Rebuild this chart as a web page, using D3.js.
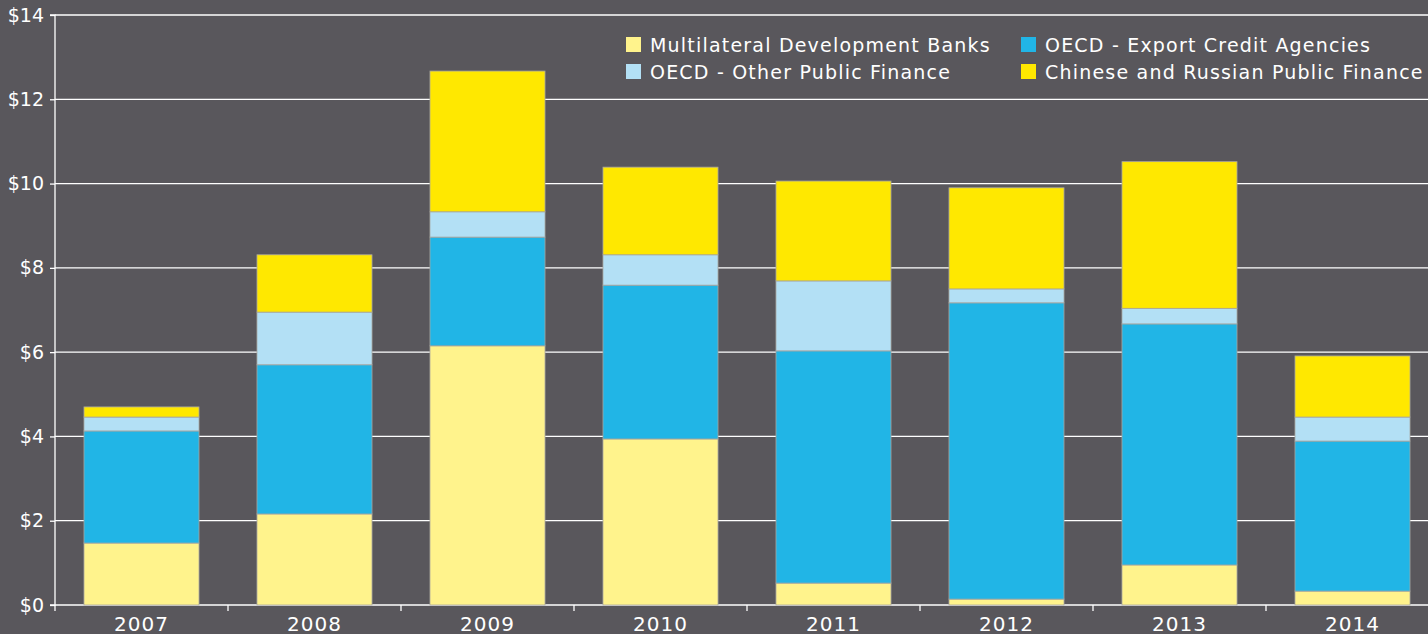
<!DOCTYPE html>
<html><head><meta charset="utf-8">
<script src="https://cdn.jsdelivr.net/npm/d3@7"></script>
<style>
html,body{margin:0;padding:0;background:#59575c;overflow:hidden}
svg{display:block}
text{font-family:"DejaVu Sans",sans-serif;fill:#fff}
</style></head><body>
<svg id="c" width="1428" height="634"></svg>
<script>
const years = ["2007","2008","2009","2010","2011","2012","2013","2014"];
const seriesNames = ["Multilateral Development Banks","OECD - Export Credit Agencies","OECD - Other Public Finance","Chinese and Russian Public Finance"];
const mdb     = [1.47, 2.16, 6.15, 3.94, 0.52, 0.14, 0.95, 0.33];
const eca     = [2.66, 3.54, 2.58, 3.65, 5.51, 7.03, 5.72, 3.56];
const other   = [0.33, 1.25, 0.60, 0.72, 1.66, 0.33, 0.37, 0.57];
const chinese = [0.24, 1.36, 3.34, 2.08, 2.37, 2.40, 3.48, 1.45];
const yTicks = [0,2,4,6,8,10,12,14];
const colors = ["#fff38c","#21b5e6","#b3e0f5","#ffe800"];

const svg = d3.select("#c");
const m = {left:55, top:15, bottom:29};
const W = 1428, H = 634;
const x = d3.scaleBand().domain(years).range([m.left, m.left + 8*173]).paddingInner(0.335).paddingOuter(0.1675);
const y = d3.scaleLinear().domain([0,14]).range([H - m.bottom, m.top]);

// gridlines
svg.append("g").selectAll("line").data(yTicks).join("line")
  .attr("x1", m.left).attr("x2", W).attr("y1", d=>y(d)).attr("y2", d=>y(d))
  .attr("stroke","#ffffff").attr("stroke-width",1.3);

const table = years.map((yr,i)=>({year:yr, s0:mdb[i], s1:eca[i], s2:other[i], s3:chinese[i]}));
const stack = d3.stack().keys(["s0","s1","s2","s3"])(table);

svg.append("g").selectAll("g").data(stack).join("g")
  .attr("fill",(d,i)=>colors[i])
  .selectAll("rect").data(d=>d).join("rect")
  .attr("x", d=>x(d.data.year)).attr("width", x.bandwidth())
  .attr("y", d=>y(d[1])).attr("height", d=>y(d[0])-y(d[1]))
  .attr("stroke","#a8a6a0").attr("stroke-width",0.8);

// y axis
const ya = svg.append("g").attr("transform",`translate(${m.left},0)`)
  .call(d3.axisLeft(y).tickValues(yTicks).tickSize(5).tickPadding(6).tickFormat(d=>"$"+d));
ya.select(".domain").attr("stroke","#fff").attr("stroke-width",1.3).attr("d",`M-5,${y(0)}H0V${y(14)}H-5`);
ya.selectAll(".tick line").attr("stroke","#fff").attr("stroke-width",1.3);
ya.selectAll("text").attr("font-size",19).attr("fill","#fff").attr("font-family","Lato, sans-serif");

// x axis
const xa = svg.append("g").attr("transform",`translate(0,${y(0)})`)
  .call(d3.axisBottom(x).tickSize(0).tickPadding(12));
xa.select(".domain").remove();
xa.selectAll("text").attr("font-size",20).attr("fill","#fff").attr("font-family","DejaVu Sans, sans-serif")
  .attr("letter-spacing","1px").attr("dy","0.71em");
const bounds = d3.range(0,9).map(i=>m.left + i*173);
svg.append("g").selectAll("line").data(bounds).join("line")
  .attr("x1",d=>d).attr("x2",d=>d).attr("y1",y(0)).attr("y2",y(0)+6)
  .attr("stroke","#fff").attr("stroke-width",1.3);

// legend
const legPos = [[626,45],[1021,45],[626,72],[1021,72]];
const lg = svg.append("g").selectAll("g").data(seriesNames).join("g")
  .attr("transform",(d,i)=>`translate(${legPos[i][0]},${legPos[i][1]})`);
lg.append("rect").attr("x",0).attr("y",-8).attr("width",15).attr("height",15).attr("fill",(d,i)=>colors[i]);
lg.append("text").attr("x",24).attr("y",0).attr("dy","0.35em").attr("font-size",19)
  .attr("letter-spacing","1.2px").text(d=>d);
</script>
</body></html>
